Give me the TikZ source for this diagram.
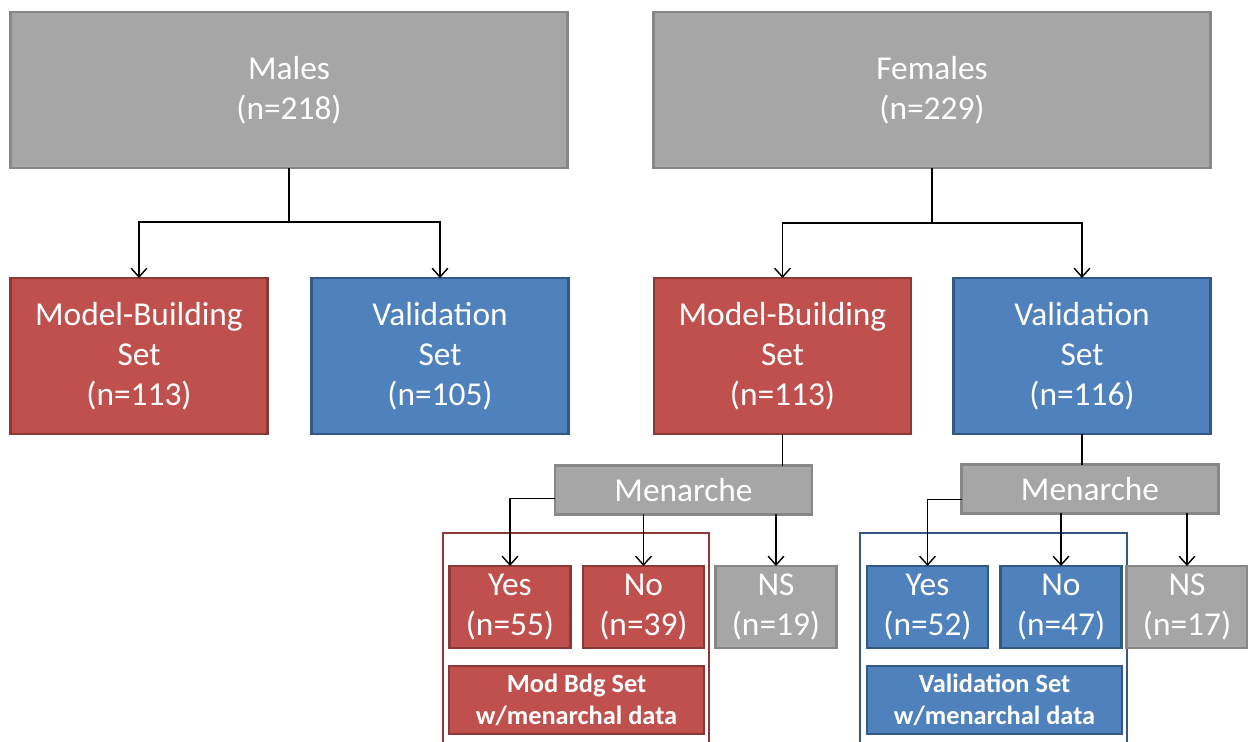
\documentclass[tikz,border=0pt]{standalone}
\usepackage{fontspec}
\setmainfont{Carlito}
\usetikzlibrary{arrows.meta}
\definecolor{boxgray}{RGB}{166,166,166}
\definecolor{linegray}{RGB}{135,135,135}
\definecolor{boxred}{RGB}{192,80,77}
\definecolor{linered}{RGB}{140,56,54}
\definecolor{boxblue}{RGB}{79,129,189}
\definecolor{lineblue}{RGB}{52,88,132}
\tikzset{%
    bx/.style={draw,line width=1.4pt,inner sep=0pt,outer sep=0pt,align=center,
        text=white,font=\fontsize{19}{22.8}\selectfont},
    gbx/.style={bx,fill=boxgray,draw=linegray},
    rbx/.style={bx,fill=boxred,draw=linered},
    bbx/.style={bx,fill=boxblue,draw=lineblue},
    arr/.style={-{Straight Barb[length=5pt,width=9pt]},line width=0.8pt}
}

\begin{document}
\begin{tikzpicture}[
                x=0.02cm, y=-0.02cm,
                big/.style={minimum width=11.14cm, minimum height=3.12cm},
                mid/.style={minimum width=5.14cm, minimum height=3.12cm},
                men/.style={minimum width=5.14cm, minimum height=0.98cm},
                sml/.style={minimum width=2.42cm, minimum height=1.64cm},
                wide/.style={minimum width=5.1cm, minimum height=1.36cm,
                    font=\fontsize{15}{18.2}\bfseries}
            ]
            \useasboundingbox (0,0) rectangle (1248,742);
            \clip (0,0) rectangle (1248,742);

            % frames round the menarchal subsets
            \draw[linered, line width=1.2pt] (443,533) rectangle (709,780);
            \draw[lineblue, line width=1.2pt] (860,533) rectangle (1127,780);

            \node[gbx,big] (males) at (289,90) {Males\\(n=218)};
            \node[gbx,big] (fem) at (932,90) {Females\\(n=229)};

            \node[rbx,mid] (mmb) at (139,356) {Model-Building\\Set\\(n=113)};
            \node[bbx,mid] (mval) at (440,356) {Validation\\Set\\(n=105)};
            \node[rbx,mid] (fmb) at (782.5,356) {Model-Building\\Set\\(n=113)};
            \node[bbx,mid] (fval) at (1082,356) {Validation\\Set\\(n=116)};

            \node[gbx,men] (men1) at (683.5,490) {Menarche};
            \node[gbx,men] (men2) at (1090,489) {Menarche};

            \node[rbx,sml] (yes1) at (510,607) {Yes\\(n=55)};
            \node[rbx,sml] (no1) at (643.5,607) {No\\(n=39)};
            \node[gbx,sml] (ns1) at (776,607) {NS\\(n=19)};
            \node[bbx,sml] (yes2) at (927.5,607) {Yes\\(n=52)};
            \node[bbx,sml] (no2) at (1061,607) {No\\(n=47)};
            \node[gbx,sml] (ns2) at (1187,607) {NS\\(n=17)};

            \node[rbx,wide] (mbd1) at (576.5,700) {Mod Bdg Set\\w/menarchal data};
            \node[bbx,wide] (mbd2) at (994.5,700) {Validation Set\\w/menarchal data};

            \coordinate (mj) at (289,222);
            \coordinate (fj) at (932,223);
            \draw[line width=0.8pt] (males.south) -- (mj);
            \draw[arr] (mj) -| (mmb.north);
            \draw[arr] (mj) -| (mval.north);
            \draw[line width=0.8pt] (fem.south) -- (fj);
            \draw[arr] (fj) -| (fmb.north);
            \draw[arr] (fj) -| (fval.north);

            \draw[line width=0.8pt] (fmb.south) -- (fmb.south |- men1.north);
            \draw[line width=0.8pt] (fval.south) -- (fval.south |- men2.north);

            \draw[arr] ([yshift=-5pt]men1.west) -| (yes1.north);
            \draw[arr] (men1.south -| no1.north) -- (no1.north);
            \draw[arr] (men1.south -| ns1.north) -- (ns1.north);
            \draw[arr] ([yshift=-6pt]men2.west) -| (yes2.north);
            \draw[arr] (men2.south -| no2.north) -- (no2.north);
            \draw[arr] (men2.south -| ns2.north) -- (ns2.north);
        \end{tikzpicture}
\end{document}
